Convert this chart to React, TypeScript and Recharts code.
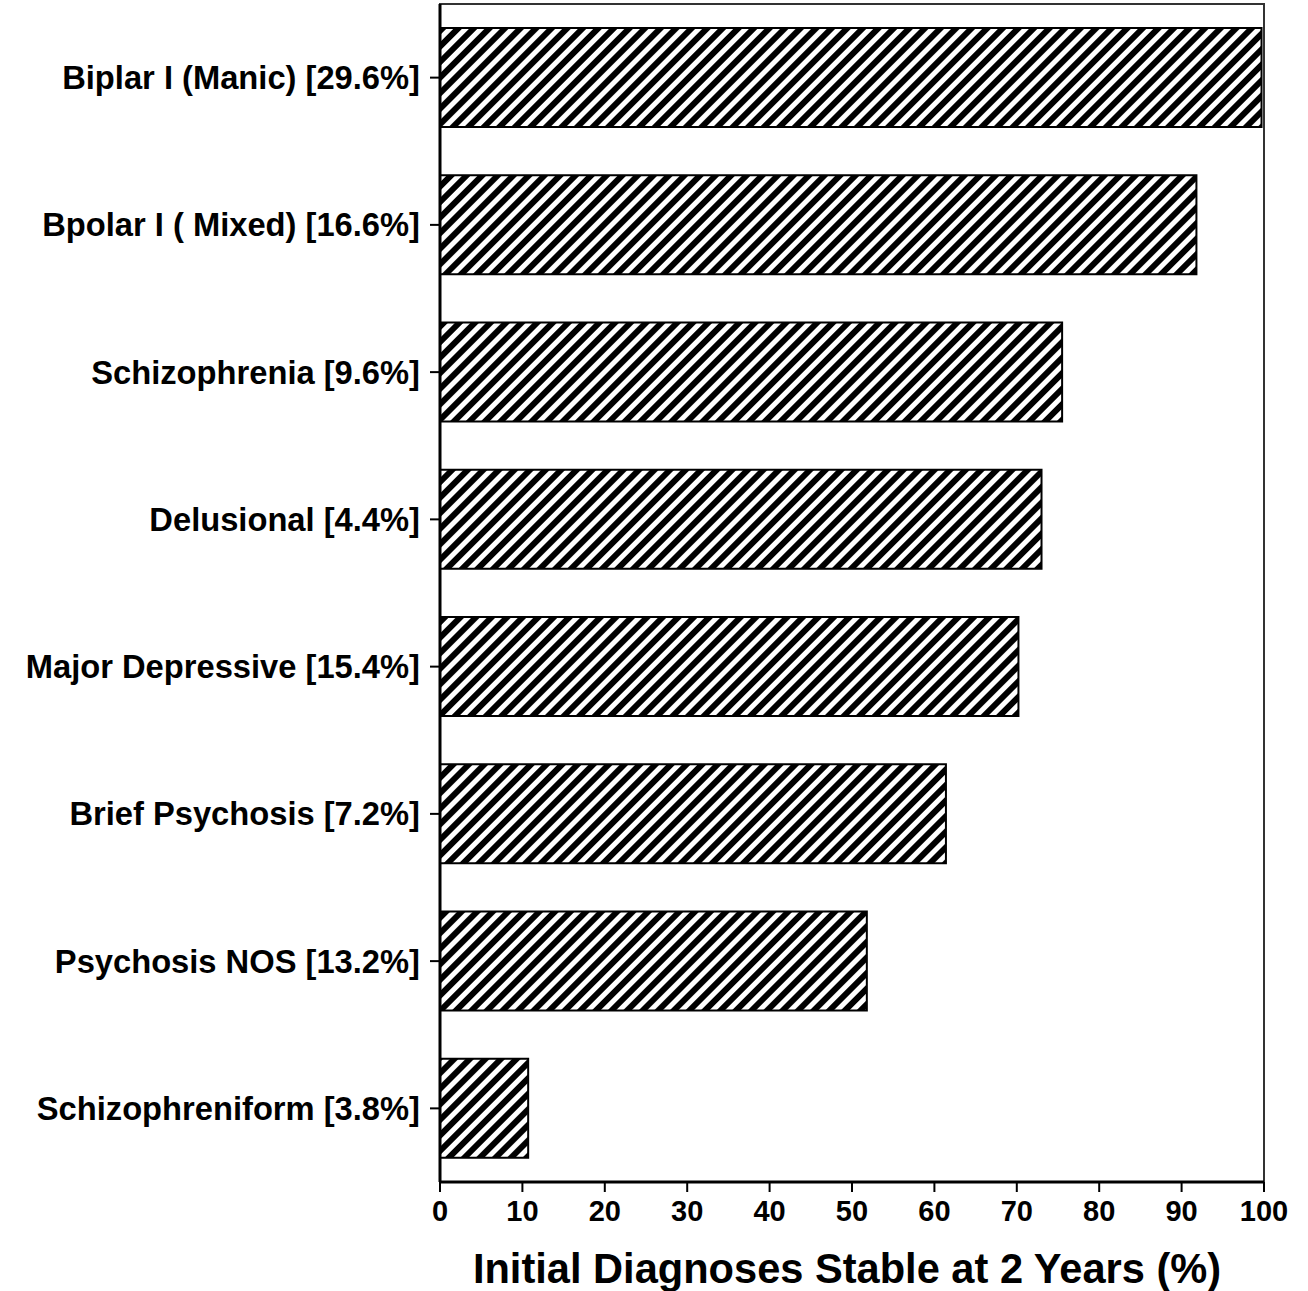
import React from 'react';
import { BarChart, Bar, XAxis, YAxis, Label, ReferenceArea } from 'recharts';

const diagnoses = [
    'Biplar I (Manic) [29.6%]',
    'Bpolar I ( Mixed) [16.6%]',
    'Schizophrenia [9.6%]',
    'Delusional [4.4%]',
    'Major Depressive [15.4%]',
    'Brief Psychosis [7.2%]',
    'Psychosis NOS [13.2%]',
    'Schizophreniform [3.8%]',
];

const stablePct = [99.7, 91.8, 75.5, 73.0, 70.2, 61.4, 51.8, 10.7];

const xTicks = [0, 10, 20, 30, 40, 50, 60, 70, 80, 90, 100];

const FONT = '"Liberation Sans", Arial, sans-serif';

const data = diagnoses.map((name, i) => ({ name, value: stablePct[i] }));

export default function App() {
    return (
        <div style={{ position: 'absolute', left: 0, top: 0, width: 1308, height: 1291, background: '#fff' }}>
            <svg width={0} height={0} style={{ position: 'absolute' }}>
                <defs>
                    <pattern id="hatch" patternUnits="userSpaceOnUse" width={11} height={11} patternTransform="rotate(45)">
                        <rect x={0} y={0} width={11} height={11} fill="#fff" />
                        <rect x={0} y={0} width={6} height={11} fill="#000" />
                    </pattern>
                </defs>
            </svg>
            <BarChart
                width={1308}
                height={1291}
                data={data}
                layout="vertical"
                margin={{ top: 4, right: 44, left: 0, bottom: 0 }}
                barSize={99}
            >
                {/* frame around the plot area (top + right edges visible) */}
                <ReferenceArea x1={0} x2={100} fill="none" stroke="#333" strokeWidth={2} ifOverflow="visible" />
                <XAxis
                    type="number"
                    domain={[0, 100]}
                    ticks={xTicks}
                    interval={0}
                    height={109}
                    axisLine={{ stroke: '#000', strokeWidth: 3 }}
                    tickLine={{ stroke: '#000', strokeWidth: 2 }}
                    tickSize={10}
                    tickMargin={8}
                    tick={{ fill: '#000', fontSize: 29, fontWeight: 700, fontFamily: FONT }}
                >
                    <Label
                        value="Initial Diagnoses Stable at 2 Years (%)"
                        position="insideBottom"
                        offset={8}
                        dx={-5}
                        style={{ fill: '#000', fontSize: 41.6, fontWeight: 700, fontFamily: FONT }}
                    />
                </XAxis>
                <YAxis
                    type="category"
                    dataKey="name"
                    width={440}
                    axisLine={{ stroke: '#000', strokeWidth: 3 }}
                    tickLine={{ stroke: '#000', strokeWidth: 2 }}
                    tickSize={10}
                    tickMargin={10}
                    interval={0}
                    tick={{ fill: '#000', fontSize: 32.7, fontWeight: 700, fontFamily: FONT }}
                />
                <Bar
                    dataKey="value"
                    fill="url(#hatch)"
                    stroke="#000"
                    strokeWidth={2}
                    isAnimationActive={false}
                />
            </BarChart>
        </div>
    );
}
